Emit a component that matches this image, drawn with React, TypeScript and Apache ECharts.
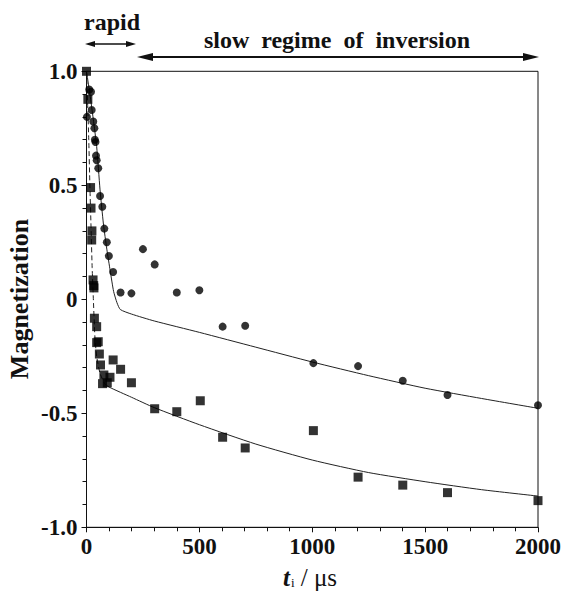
import React, { useEffect, useRef } from "react";
import * as echarts from "echarts";

const xTicks = [0, 500, 1000, 1500, 2000];
const yTicks = [-1.0, -0.5, 0, 0.5, 1.0];

// circles: measured magnetization (upper data set)
const circleData: [number, number][] = [
  [2, 0.80], [12, 0.92], [20, 0.91], [23, 0.83], [30, 0.78], [35, 0.75], [37, 0.70],
  [40, 0.69], [42, 0.63], [45, 0.61], [52, 0.575], [60, 0.453], [70, 0.406], [79, 0.31],
  [90, 0.25], [99, 0.19], [118, 0.12], [151, 0.03], [199, 0.026], [250, 0.22], [302, 0.153],
  [400, 0.03], [500, 0.04], [603, -0.12], [703, -0.116], [1005, -0.28], [1203, -0.293],
  [1401, -0.357], [1599, -0.42], [2000, -0.465],
];

// squares: measured magnetization (lower data set)
const squareData: [number, number][] = [
  [0, 1.0], [6, 0.877], [18, 0.49], [20, 0.40], [24, 0.30], [23, 0.26], [29, 0.085],
  [32, 0.06], [33, 0.05], [35, -0.083], [45, -0.12], [45, -0.19], [52, -0.186], [57, -0.24],
  [62, -0.288], [77, -0.332], [71, -0.37], [92, -0.366], [104, -0.342], [118, -0.266],
  [151, -0.307], [199, -0.366], [302, -0.48], [400, -0.493], [504, -0.445], [603, -0.605],
  [703, -0.652], [1005, -0.576], [1203, -0.78], [1401, -0.815], [1599, -0.848], [2000, -0.883],
];

// fit curve through circles
const circleFit: [number, number][] = [
  [0, 1.0], [15, 0.9], [30, 0.79], [45, 0.67], [60, 0.48], [75, 0.33], [90, 0.22],
  [105, 0.125], [120, 0.035], [135, -0.015], [150, -0.045], [200, -0.065], [300, -0.095],
  [500, -0.145], [750, -0.21], [1000, -0.275], [1250, -0.335], [1500, -0.39],
  [1750, -0.435], [2000, -0.478],
];

// fit curve through squares: dashed rapid part, solid slow part
const squareFitRapid: [number, number][] = [
  [0, 1.0], [5, 0.86], [10, 0.7], [15, 0.5], [20, 0.32], [25, 0.14], [30, 0.01],
  [37, -0.16], [45, -0.25], [60, -0.325], [80, -0.37],
];
const squareFitSlow: [number, number][] = [
  [80, -0.37], [100, -0.385], [200, -0.43], [300, -0.475], [500, -0.55], [750, -0.635],
  [1000, -0.705], [1250, -0.76], [1500, -0.8], [1750, -0.835], [2000, -0.863],
];

const FAM = "Liberation Serif";

export default function App() {
  const ref = useRef<HTMLDivElement>(null);
  useEffect(() => {
    if (!ref.current) return;
    const chart = echarts.init(ref.current, null, { renderer: "svg" });
    const lineStyle = { color: "#222", width: 1 };
    const labelStyle = {
      fontFamily: FAM,
      fontWeight: "bold",
      fontSize: 23,
      color: "#111",
    };
    chart.setOption({
      animation: false,
      backgroundColor: "#fff",
      textStyle: { fontFamily: FAM },
      grid: {
        left: 86.5,
        right: 24,
        top: 71.3,
        bottom: 68.7,
        show: true,
        borderColor: "#111",
        borderWidth: 1,
        backgroundColor: "transparent",
      },
      xAxis: {
        type: "value",
        min: xTicks[0],
        max: xTicks[xTicks.length - 1],
        interval: 500,
        axisLine: { show: true, onZero: false, lineStyle: { color: "#111", width: 1 } },
        axisTick: { show: true, inside: false, length: 5, lineStyle: { color: "#111" } },
        minorTick: { show: true, splitNumber: 5, length: 4, lineStyle: { color: "#111" } },
        splitLine: { show: false },
        axisLabel: {
          ...labelStyle,
          margin: 8,
          formatter: (v: number) => String(v),
        },
      },
      yAxis: {
        type: "value",
        min: yTicks[0],
        max: yTicks[yTicks.length - 1],
        interval: 0.5,
        axisLine: { show: true, onZero: false, lineStyle: { color: "#111", width: 1 } },
        axisTick: { show: true, inside: false, length: 5, lineStyle: { color: "#111" } },
        minorTick: { show: true, splitNumber: 5, length: 4, lineStyle: { color: "#111" } },
        splitLine: { show: false },
        axisLabel: {
          ...labelStyle,
          margin: 9,
          formatter: (v: number) => (Math.abs(v) < 1e-9 ? "0" : v.toFixed(1)),
        },
      },
      series: [
        {
          type: "line",
          data: circleFit,
          showSymbol: false,
          smooth: 0.2,
          lineStyle,
          z: 2,
        },
        {
          type: "line",
          data: squareFitRapid,
          showSymbol: false,
          smooth: 0.2,
          lineStyle: { color: "#222", width: 1, type: [5, 3] },
          z: 2,
        },
        {
          type: "line",
          data: squareFitSlow,
          showSymbol: false,
          smooth: 0.2,
          lineStyle,
          z: 2,
        },
        {
          type: "scatter",
          data: circleData,
          symbol: "circle",
          symbolSize: 8,
          itemStyle: { color: "#000" },
          clip: false,
          z: 3,
        },
        {
          type: "scatter",
          data: squareData,
          symbol: "rect",
          symbolSize: 9,
          itemStyle: { color: "#000" },
          clip: false,
          z: 3,
        },
      ],
      graphic: [
        {
          type: "text",
          x: 112,
          y: 22,
          style: {
            text: "rapid",
            fontFamily: FAM,
            fontWeight: "bold",
            fontSize: 24,
            fill: "#111",
            align: "center",
            verticalAlign: "middle",
          },
        },
        {
          type: "text",
          x: 337,
          y: 40,
          style: {
            text: "slow  regime  of  inversion",
            fontFamily: FAM,
            fontWeight: "bold",
            fontSize: 24,
            fill: "#111",
            align: "center",
            verticalAlign: "middle",
          },
        },
        // small double arrow
        { type: "line", shape: { x1: 90, y1: 44, x2: 131, y2: 44 }, style: { stroke: "#111", lineWidth: 1.5 } },
        { type: "polygon", shape: { points: [[85, 44], [95, 41], [95, 47]] }, style: { fill: "#111" } },
        { type: "polygon", shape: { points: [[136, 44], [126, 41], [126, 47]] }, style: { fill: "#111" } },
        // long double arrow
        { type: "line", shape: { x1: 145, y1: 57, x2: 530, y2: 57 }, style: { stroke: "#111", lineWidth: 2 } },
        { type: "polygon", shape: { points: [[137, 57], [153, 53], [153, 61]] }, style: { fill: "#111" } },
        { type: "polygon", shape: { points: [[539, 57], [523, 53], [523, 61]] }, style: { fill: "#111" } },
        // axis titles
        {
          type: "text",
          x: 19,
          y: 299,
          rotation: Math.PI / 2,
          style: {
            text: "Magnetization",
            fontFamily: FAM,
            fontWeight: "bold",
            fontSize: 26,
            fill: "#111",
            align: "center",
            verticalAlign: "middle",
          },
        },
        {
          type: "text",
          x: 310,
          y: 577,
          style: {
            text: "{t|t}{i|i}{n| / μs}",
            align: "center",
            verticalAlign: "middle",
            fill: "#111",
            rich: {
              t: { fontFamily: FAM, fontStyle: "italic", fontWeight: "bold", fontSize: 25, fill: "#111" },
              i: { fontFamily: FAM, fontSize: 13, fill: "#111", padding: [11, 0, 0, 1] },
              n: { fontFamily: FAM, fontSize: 25, fill: "#111" },
            },
          },
        },
      ],
    });
    return () => chart.dispose();
  }, []);
  return (
    <div
      ref={ref}
      style={{ position: "fixed", left: 0, top: 0, width: 564, height: 596, background: "#fff" }}
    />
  );
}
